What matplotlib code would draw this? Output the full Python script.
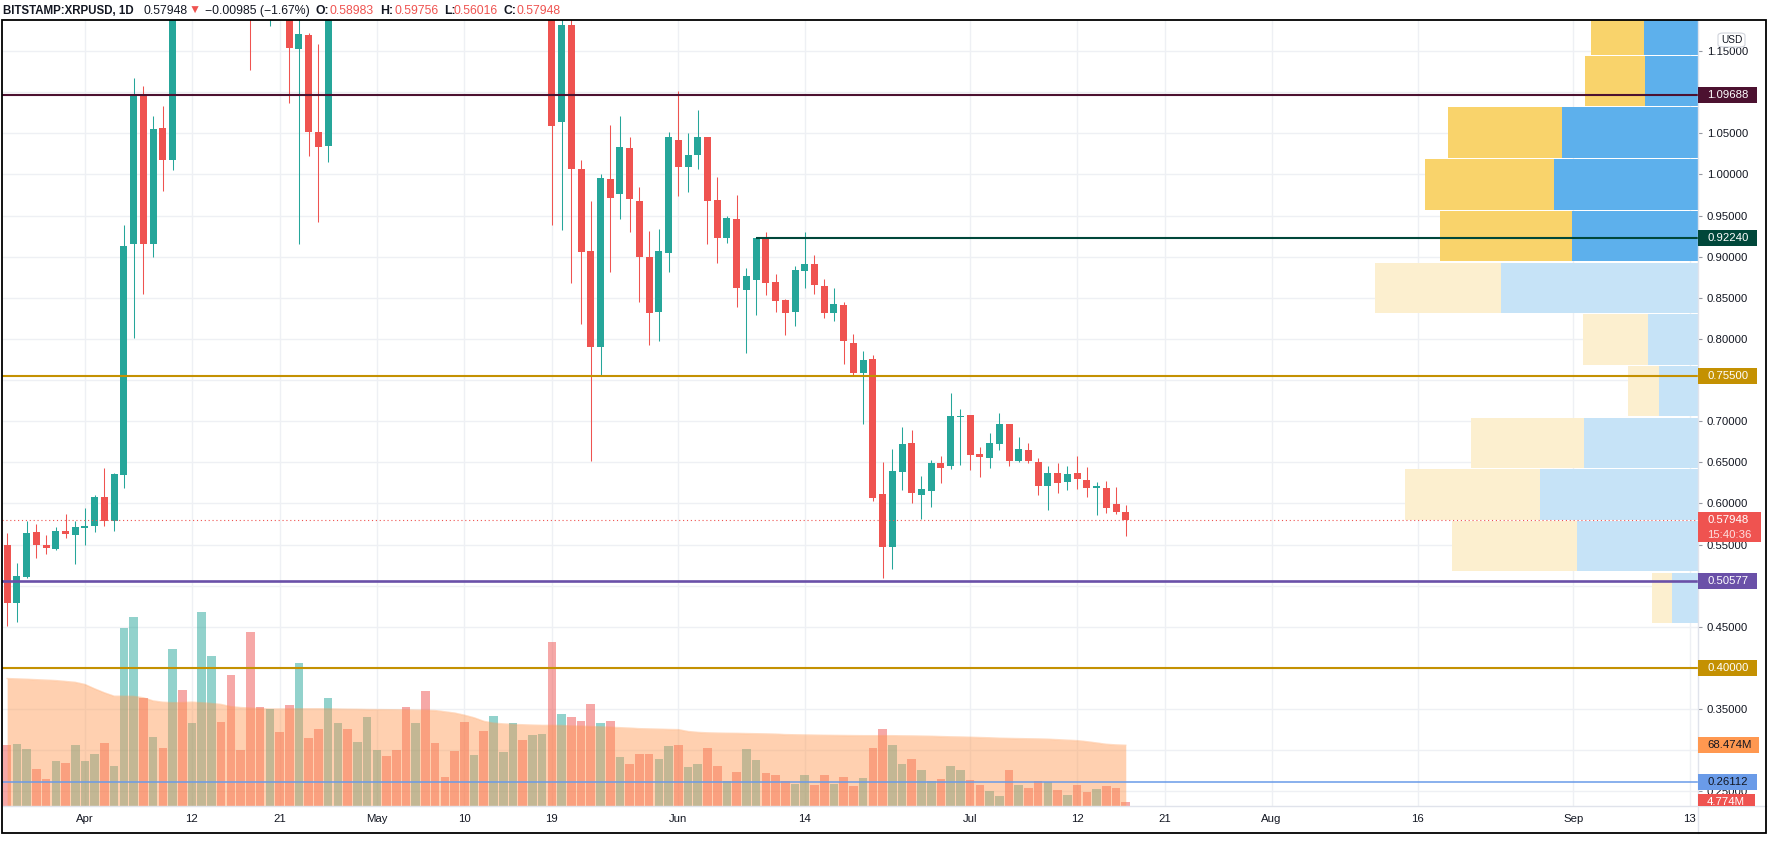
from __future__ import annotations

import matplotlib
import numpy as np
import pandas as pd

matplotlib.use("Agg")
import matplotlib.pyplot as plt
from matplotlib.lines import Line2D
from matplotlib.patches import FancyBboxPatch, Rectangle
from matplotlib.transforms import blended_transform_factory


FIG_W, FIG_H, DPI = 1776, 846, 100
FONT = ["Liberation Sans", "DejaVu Sans"]
DARK = "#131722"
UP = "#26a69a"
DOWN = "#ef5350"

FIRST_DAY = "2021-03-24"
ORIGIN = "2021-04-01"

OPENS = [
    0.549, 0.479, 0.511, 0.565, 0.549, 0.545, 0.566, 0.562, 0.570, 0.572,
    0.608, 0.579, 0.635, 0.915, 1.096, 0.915, 1.056, 1.017, 1.37, 1.33,
    1.48, 1.77, 1.80, 1.72, 1.58, 1.48, 1.35, 1.28, 1.40, 1.30,
    1.153, 1.169, 1.051, 1.034, 1.30, 1.38, 1.35, 1.42, 1.45, 1.60,
    1.55, 1.50, 1.42, 1.58, 1.55, 1.50, 1.45, 1.42, 1.38, 1.55,
    1.45, 1.50, 1.58, 1.68, 1.50, 1.52, 1.55, 1.064, 1.182, 1.007,
    0.907, 0.790, 0.994, 0.976, 1.032, 0.968, 0.899, 0.833, 0.905, 1.042,
    1.009, 1.023, 1.046, 0.969, 0.923, 0.946, 0.859, 0.872, 0.9224, 0.869,
    0.847, 0.833, 0.883, 0.891, 0.864, 0.831, 0.841, 0.795, 0.759, 0.775,
    0.611, 0.547, 0.638, 0.673, 0.610, 0.615, 0.649, 0.645, 0.705, 0.707,
    0.660, 0.655, 0.672, 0.696, 0.652, 0.665, 0.650, 0.621, 0.637, 0.626,
    0.637, 0.629, 0.619, 0.619, 0.599, 0.58983,
]
HIGHS = [
    0.564, 0.528, 0.578, 0.575, 0.562, 0.571, 0.587, 0.578, 0.595, 0.610,
    0.643, 0.637, 0.938, 1.117, 1.107, 1.071, 1.083, 1.43, 1.40, 1.50,
    1.82, 1.96, 1.85, 1.74, 1.62, 1.50, 1.40, 1.45, 1.42, 1.35,
    1.21, 1.172, 1.158, 1.33, 1.42, 1.45, 1.45, 1.50, 1.65, 1.63,
    1.58, 1.52, 1.62, 1.62, 1.60, 1.55, 1.52, 1.48, 1.60, 1.58,
    1.55, 1.62, 1.72, 1.70, 1.58, 1.60, 1.58, 1.25, 1.22, 1.018,
    0.968, 1.000, 1.060, 1.071, 1.045, 0.985, 0.931, 0.934, 1.051, 1.101,
    1.050, 1.078, 1.046, 0.997, 0.949, 0.975, 0.886, 0.9226, 0.930, 0.879,
    0.848, 0.889, 0.930, 0.902, 0.873, 0.862, 0.845, 0.806, 0.785, 0.780,
    0.650, 0.666, 0.693, 0.689, 0.633, 0.653, 0.658, 0.734, 0.715, 0.708,
    0.669, 0.685, 0.710, 0.697, 0.681, 0.674, 0.655, 0.645, 0.649, 0.645,
    0.658, 0.644, 0.626, 0.627, 0.620, 0.59756,
]
LOWS = [
    0.451, 0.456, 0.509, 0.534, 0.539, 0.543, 0.558, 0.526, 0.549, 0.565,
    0.573, 0.566, 0.619, 0.801, 0.855, 0.899, 0.980, 1.005, 1.25, 1.30,
    1.45, 1.62, 1.58, 1.48, 1.40, 1.127, 1.21, 1.18, 1.25, 1.087,
    0.915, 1.022, 0.942, 1.015, 1.28, 1.30, 1.32, 1.38, 1.42, 1.50,
    1.45, 1.38, 1.40, 1.50, 1.45, 1.38, 1.35, 1.30, 1.36, 1.40,
    1.42, 1.48, 1.55, 1.45, 1.42, 1.45, 0.938, 0.932, 0.868, 0.818,
    0.651, 0.755, 0.881, 0.946, 0.930, 0.845, 0.792, 0.798, 0.881, 0.974,
    0.979, 1.006, 0.915, 0.892, 0.916, 0.839, 0.783, 0.829, 0.853, 0.833,
    0.805, 0.816, 0.862, 0.855, 0.825, 0.822, 0.770, 0.755, 0.696, 0.603,
    0.509, 0.520, 0.616, 0.601, 0.581, 0.596, 0.625, 0.642, 0.647, 0.640,
    0.632, 0.643, 0.665, 0.645, 0.650, 0.649, 0.610, 0.592, 0.613, 0.616,
    0.618, 0.608, 0.586, 0.588, 0.587, 0.56016,
]
CLOSES = [
    0.479, 0.5115, 0.564, 0.549, 0.546, 0.566, 0.563, 0.571, 0.572, 0.608,
    0.579, 0.636, 0.913, 1.096, 0.915, 1.055, 1.018, 1.37, 1.33, 1.48,
    1.77, 1.80, 1.72, 1.58, 1.48, 1.35, 1.28, 1.40, 1.30, 1.154,
    1.171, 1.051, 1.033, 1.30, 1.38, 1.35, 1.42, 1.45, 1.60, 1.55,
    1.50, 1.42, 1.58, 1.55, 1.50, 1.45, 1.42, 1.38, 1.55, 1.45,
    1.50, 1.58, 1.68, 1.50, 1.52, 1.55, 1.059, 1.182, 1.007, 0.906,
    0.790, 0.996, 0.971, 1.033, 0.970, 0.899, 0.831, 0.907, 1.045, 1.009,
    1.024, 1.045, 0.968, 0.923, 0.947, 0.862, 0.876, 0.9224, 0.868, 0.846,
    0.831, 0.884, 0.891, 0.866, 0.831, 0.842, 0.797, 0.758, 0.774, 0.606,
    0.547, 0.639, 0.672, 0.613, 0.617, 0.649, 0.643, 0.706, 0.706, 0.659,
    0.657, 0.673, 0.696, 0.652, 0.666, 0.652, 0.621, 0.637, 0.625, 0.636,
    0.630, 0.619, 0.621, 0.5945, 0.58933, 0.57948,
]
# daily volume, millions
VOLUMES = [
    68.5, 70.3, 64.0, 41.5, 30.3, 50.5, 48.3, 68.5, 50.5, 58.4,
    70.7, 44.9, 200.9, 213.3, 121.6, 77.5, 65.1, 177.4, 131.3, 93.2,
    218.9, 169.5, 94.3, 148.2, 62.9, 196.4, 111.1, 108.9, 83.1, 113.4,
    161.6, 76.3, 86.4, 121.2, 93.2, 86.4, 71.8, 99.9, 62.9, 56.1,
    62.9, 111.1, 93.2, 129.1, 70.7, 32.6, 61.7, 94.3, 57.2, 84.2,
    101.0, 60.6, 93.2, 74.1, 79.7, 80.8, 185.2, 103.3, 99.9, 95.4,
    114.5, 93.2, 95.4, 55.0, 47.1, 58.4, 58.4, 52.8, 67.3, 68.5,
    43.8, 47.1, 65.1, 44.9, 28.1, 38.2, 64.0, 51.6, 37.0, 34.8,
    28.1, 24.7, 34.8, 23.6, 34.8, 24.7, 32.6, 22.4, 31.4, 65.1,
    86.4, 68.5, 47.1, 52.8, 40.4, 28.1, 30.3, 44.9, 40.4, 29.2,
    23.6, 16.8, 11.2, 40.4, 23.6, 20.2, 28.1, 26.9, 18.0, 12.3,
    23.6, 15.7, 19.1, 22.4, 20.2, 4.774,
]
VOLUME_MA = [
    143.7, 143.3, 142.9, 142.4, 141.9, 141.4, 140.4, 139.4, 137.0, 132.1,
    127.6, 123.8, 123.7, 123.6, 122.0, 118.5, 117.0, 116.5, 116.6, 117.1,
    116.4, 115.6, 114.5, 112.0, 111.0, 110.4, 109.8, 109.3, 109.4, 109.5,
    109.6, 109.6, 109.6, 109.5, 109.3, 109.1, 109.0, 108.8, 108.7, 108.6,
    108.5, 108.3, 108.1, 107.9, 107.6, 106.2, 104.8, 102.4, 99.5, 95.5,
    93.4, 92.6, 92.0, 91.6, 91.2, 90.9, 90.9, 90.8, 90.2, 89.9,
    89.6, 89.2, 88.8, 88.3, 87.8, 87.2, 86.9, 86.6, 86.3, 86.1,
    84.0, 83.0, 82.5, 82.2, 82.0, 81.9, 81.7, 81.5, 81.3, 81.0,
    80.5, 80.3, 80.1, 79.9, 79.7, 79.6, 79.5, 79.4, 79.3, 79.3,
    79.3, 79.3, 79.1, 79.0, 78.8, 78.6, 78.3, 78.0, 77.8, 77.5,
    77.2, 76.9, 76.4, 76.2, 76.0, 75.8, 75.6, 75.3, 74.8, 74.2,
    73.7, 72.5, 71.1, 69.6, 68.9, 68.474,
]

# visible-range volume profile (bottom row first), millions
VP_LOW = 0.4537
VP_ROW = 0.06284
VP_UP = [240, 1500, 1620, 1356, 372, 780, 1512, 1584, 1548, 1368, 720, 636]
VP_DOWN = [312, 1452, 1896, 1368, 468, 600, 2364, 1512, 1728, 1632, 636, 648]
VP_VALUE_AREA_FROM = 7

TICK_DATES = [
    "2021-04-01", "2021-04-12", "2021-04-21", "2021-05-01", "2021-05-10",
    "2021-05-19", "2021-06-01", "2021-06-14", "2021-07-01", "2021-07-12",
    "2021-07-21", "2021-08-01", "2021-08-16", "2021-09-01", "2021-09-13",
]
TICK_LABELS = ["Apr", "12", "21", "May", "10", "19", "Jun", "14", "Jul", "12",
               "21", "Aug", "16", "Sep", "13"]
# price-scale ticks that sit behind a coloured tag
HIDDEN_TICKS = [1.10, 0.75, 0.50, 0.40, 0.30]

LEVEL_PRICES = [1.09688, 0.92240, 0.75500, 0.50577, 0.40000, 0.26112]
LEVEL_COLORS = ["#4c1130", "#00473a", "#c49102", "#6a50a8", "#c49102", "#6a9be8"]
LEVEL_WIDTHS = [1.5, 1.5, 1.5, 1.9, 1.5, 1.1]
LEVEL_START = "2021-06-09"  # the 0.92240 line starts here

PLOT_L, PLOT_R, PLOT_T, PLOT_B = 2, 1698, 20, 806
FRAME_R, FRAME_B = 1766, 833
XLIM = (-8.53, 165.83)
YLIM = (0.2321, 1.1877)
VOL_TOP = 886.0
TITLE_X = [3, 143, 189, 205, 316, 329, 380, 394, 444, 453.5, 503, 516.6]


def fx(x_px: float) -> float:
    return x_px / FIG_W


def fy(y_px_top: float) -> float:
    return 1 - y_px_top / FIG_H


def price_tag(fig, trans, value, text, face, fg="white", width=59, sub=None):
    y_top = FIG_H - trans.transform((0, value))[1]
    top = y_top - 8
    bottom = min(top + (30 if sub else 16), PLOT_B)
    fig.add_artist(Rectangle((fx(PLOT_R), fy(bottom)), width / FIG_W, (bottom - top) / FIG_H,
                             transform=fig.transFigure, facecolor=face, edgecolor="none", zorder=5))
    fig.text(fx(1707), fy(y_top), text, color=fg, fontsize=8.2, family=FONT,
             va="center", ha="left", zorder=6)
    if sub:
        fig.text(fx(1707), fy(y_top + 14.5), sub, color="#fde0df", fontsize=8.2, family=FONT,
                 va="center", ha="left", zorder=6)


def draw_title(fig, runs):
    for (text, color, weight), x in zip(runs, TITLE_X):
        size = 8.3 if weight == "bold" and len(text) > 3 else 8.8
        fig.text(fx(x), fy(11), text, color=color, fontsize=size, fontweight=weight,
                 family=FONT, va="center", ha="left")


def main() -> None:
    n = len(OPENS)
    for arr in (HIGHS, LOWS, CLOSES, VOLUMES, VOLUME_MA):
        assert len(arr) == n

    dates = pd.date_range(FIRST_DAY, periods=n, freq="D")
    origin = pd.Timestamp(ORIGIN)
    x = np.array((dates - origin).days, dtype=float)
    o, h, l, c = map(np.array, (OPENS, HIGHS, LOWS, CLOSES))
    up = c >= o
    tick_x = [(pd.Timestamp(d) - origin).days for d in TICK_DATES]

    fig = plt.figure(figsize=(FIG_W / DPI, FIG_H / DPI), dpi=DPI)
    fig.patch.set_facecolor("white")
    axv = fig.add_axes([fx(PLOT_L), fy(PLOT_B), (PLOT_R - PLOT_L) / FIG_W, (PLOT_B - PLOT_T) / FIG_H])
    ax = axv.twinx()

    axv.set_xlim(*XLIM)
    axv.set_ylim(0, VOL_TOP)
    ax.set_ylim(*YLIM)
    for a in (ax, axv):
        for s in a.spines.values():
            s.set_visible(False)

    # grid (bottom layer)
    grid_trans = blended_transform_factory(axv.transAxes, ax.transData)
    for p in np.arange(0.25, 1.2, 0.05):
        axv.add_line(Line2D([0, 1], [p, p], transform=grid_trans, color="#eef0f4", lw=1, zorder=0.5))
    for tx in tick_x:
        axv.axvline(tx, color="#eef0f4", lw=1, zorder=0.5)

    # volume + moving average area
    vol_colors = [(0.149, 0.651, 0.604, 0.5) if u else (0.937, 0.325, 0.314, 0.5) for u in up]
    axv.bar(x, VOLUMES, width=0.88, color=vol_colors, lw=0, zorder=2)
    axv.fill_between(x, 0, VOLUME_MA, color="#ff9850", alpha=0.45, lw=0, zorder=3)
    axv.plot(x, VOLUME_MA, color="#ff9850", alpha=0.35, lw=1, zorder=3)

    axv.set_xticks(tick_x)
    axv.set_xticklabels(TICK_LABELS, family=FONT, fontsize=8.2, color=DARK)
    axv.tick_params(axis="x", length=0, pad=6)
    axv.tick_params(axis="y", left=False, labelleft=False)

    # candles
    colors = np.where(up, UP, DOWN)
    ax.vlines(x, l, h, colors=colors, lw=0.75, zorder=3)
    body = np.maximum(np.abs(c - o), 0.0012)
    ax.bar(x, body, bottom=np.minimum(o, c), width=0.72, color=colors, lw=0, zorder=3)

    # visible range volume profile
    vp_scale = 33.2 / max(u_ + d_ for u_, d_ in zip(VP_UP, VP_DOWN))
    for k, (vu, vd) in enumerate(zip(VP_UP, VP_DOWN)):
        bright = k >= VP_VALUE_AREA_FROM
        yc = VP_LOW + (k + 0.5) * VP_ROW
        wd, wu = vd * vp_scale, vu * vp_scale
        ax.barh(yc, wd, left=XLIM[1] - wd, height=VP_ROW - 0.0015,
                color="#5db0ec" if bright else "#c6e3f7", lw=0, zorder=2)
        ax.barh(yc, wu, left=XLIM[1] - wd - wu, height=VP_ROW - 0.0015,
                color="#f9d36b" if bright else "#fcefcf", lw=0, zorder=2)

    # horizontal levels
    start_x = (pd.Timestamp(LEVEL_START) - origin).days
    for p, col, lw in zip(LEVEL_PRICES, LEVEL_COLORS, LEVEL_WIDTHS):
        if abs(p - 0.9224) < 1e-6:
            ax.hlines(p, start_x, XLIM[1], color=col, lw=lw, zorder=4)
        else:
            ax.axhline(p, color=col, lw=lw, zorder=4)
    ax.axhline(c[-1], color=DOWN, lw=0.8, ls=(0, (1, 2.5)), zorder=5)
    ax.set_xlim(*XLIM)

    # price scale
    yt = np.round(np.arange(0.25, 1.2, 0.05), 2)
    ax.set_yticks(yt)
    ax.set_yticklabels(["" if any(abs(v - hv) < 1e-6 for hv in HIDDEN_TICKS) else f"{v:.5f}" for v in yt],
                       family=FONT, fontsize=8.2, color=DARK)
    ax.tick_params(axis="y", length=3, width=0.8, color="#9598a1", pad=3.2)

    # separators and outer frame
    fig.add_artist(Line2D([fx(PLOT_R)] * 2, [fy(PLOT_T), fy(FRAME_B)], color="#e0e3eb", lw=1))
    fig.add_artist(Line2D([fx(PLOT_L), fx(FRAME_R)], [fy(PLOT_B)] * 2, color="#e0e3eb", lw=1))
    fig.add_artist(Rectangle((fx(PLOT_L), fy(FRAME_B)), (FRAME_R - PLOT_L) / FIG_W,
                             (FRAME_B - PLOT_T) / FIG_H, transform=fig.transFigure,
                             fill=False, edgecolor="black", lw=1.3, zorder=7))

    # USD badge
    fig.add_artist(FancyBboxPatch((fx(1718), fy(47)), 27 / FIG_W, 14 / FIG_H,
                                  boxstyle="round,pad=0,rounding_size=0.003",
                                  transform=fig.transFigure, facecolor="white",
                                  edgecolor="#d1d4dc", lw=0.8, zorder=5))
    fig.text(fx(1731.5), fy(40), "USD", color=DARK, fontsize=7.3, family=FONT,
             ha="center", va="center", zorder=6)

    # price / volume tags
    fig.canvas.draw()
    trans = ax.transData
    price_tag(fig, trans, 1.09688, "1.09688", "#4c1130")
    price_tag(fig, trans, 0.92240, "0.92240", "#00473a")
    price_tag(fig, trans, 0.75500, "0.75500", "#c49102")
    price_tag(fig, trans, c[-1], f"{c[-1]:.5f}", DOWN, width=63, sub="15:40:36")
    price_tag(fig, trans, 0.50577, "0.50577", "#6a50a8")
    price_tag(fig, trans, 0.40000, "0.40000", "#c49102")
    price_tag(fig, axv.transData, VOLUME_MA[-1], f"{VOLUME_MA[-1]:.3f}M", "#ff9850", fg=DARK, width=61)
    price_tag(fig, trans, 0.26112, "0.26112", "#6a9be8", fg=DARK)
    price_tag(fig, axv.transData, VOLUMES[-1], f"{VOLUMES[-1]:.3f}M", DOWN, width=57)

    change = c[-1] - c[-2]
    pct = change / c[-2] * 100
    runs = [
        ("BITSTAMP:XRPUSD, 1D", DARK, "bold"),
        (f"{c[-1]:.5f}", DARK, "normal"),
        ("\u25bc", DOWN, "normal"),
        (f"\u2212{abs(change):.5f} (\u2212{abs(pct):.2f}%)", DARK, "normal"),
        ("O:", DARK, "bold"), (f"{o[-1]:.5f}", DOWN, "normal"),
        ("H:", DARK, "bold"), (f"{h[-1]:.5f}", DOWN, "normal"),
        ("L:", DARK, "bold"), (f"{l[-1]:.5f}", DOWN, "normal"),
        ("C:", DARK, "bold"), (f"{c[-1]:.5f}", DOWN, "normal"),
    ]
    draw_title(fig, runs)

    fig.savefig("out.png", dpi=DPI)
    plt.close(fig)


if __name__ == "__main__":
    main()
